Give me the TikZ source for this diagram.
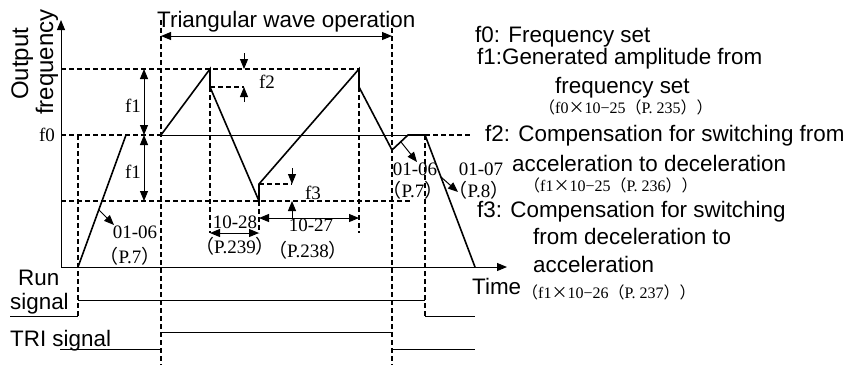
\documentclass[tikz,border=0pt]{standalone}
\usepackage{fontspec}
\setmainfont{Liberation Serif}
\newfontfamily\sansf{Liberation Sans}
\newfontfamily\cjkf{Noto Sans CJK SC}
\usetikzlibrary{arrows.meta}
\newcommand\flp{{\cjkf （}}
\newcommand\frp{{\cjkf ）}}
\newcommand\ftimes{{\cjkf ×}}
\begin{document}
\begin{tikzpicture}[x=1pt,y=-1pt,
  dsh/.style={line width=1.1pt, dash pattern=on 5pt off 3pt},
  wave/.style={line width=1.6pt},
  thinl/.style={line width=1pt},
  sig/.style={line width=0.9pt},
  tip/.style={line width=1pt,-{Triangle[length=10pt,width=8pt]}},
  dtip/.style={line width=1pt,{Triangle[length=10pt,width=8pt]}-{Triangle[length=10pt,width=8pt]}},
  lab/.style={font=\sansf\fontsize{22.4}{27}\selectfont, inner sep=0pt, anchor=base west},
  num/.style={font=\fontsize{19}{22}\selectfont, inner sep=0pt},
  note/.style={font=\fontsize{16}{19}\selectfont, inner sep=0pt, anchor=base west}]
\useasboundingbox (0,0) rectangle (851,365);
% key points
\coordinate (O) at (61,267);
\coordinate (ytop) at (61,20);
\coordinate (xend) at (507,267);
\coordinate (s0) at (78,267);
\coordinate (a) at (126,135);
\coordinate (b) at (161,135);
\coordinate (p1) at (210,69);
\coordinate (p1d) at (210,87);
\coordinate (v1) at (259,201);
\coordinate (v1u) at (259,184);
\coordinate (p2) at (359,69);
\coordinate (p2d) at (359,87);
\coordinate (v2) at (392,150);
\coordinate (c) at (408,135);
\coordinate (d) at (425,135);
\coordinate (e) at (475,267);
% axes
\draw[tip] (O) -- (ytop);
\draw[tip] (O) -- (xend);
% horizontal reference lines
\draw[dsh] (61,69) -- (p2);
\draw[dsh] (61,135) -- (b);
\draw[thinl] (b) -- (d);
\draw[dsh] (d) -- (470,135);
\draw[dsh] (61,201) -- (410,201);
\draw[dsh] (p1d) -- (244,87);
\draw[dsh] (v1u) -- (292,184);
% vertical dashed lines
\draw[dsh] (78,135) -- (78,316);
\draw[dsh] (161,20) -- (161,365);
\draw[dsh] (p1d) -- (210,233);
\draw[dsh] (v1) -- (259,233);
\draw[dsh] (p2d) -- (359,233);
\draw[dsh] (392,20) -- (392,365);
\draw[dsh] (d) -- (425,316);
% waveform
\draw[wave] (s0) -- (a);
\draw[wave] (b) -- (p1) -- (p1d) -- (v1) -- (v1u) -- (p2) -- (p2d) -- (v2) -- (c) -- (d) -- (e);
% dimension arrows
\draw[dtip] (161,36) -- (392,36);
\draw[dtip] (144,69) -- (144,135);
\draw[dtip] (144,135) -- (144,201);
\draw[tip] (244,53) -- (244,69);
\draw[tip] (244,102) -- (244,87);
\draw[tip] (292,168) -- (292,184);
\draw[tip] (292,218) -- (292,201);
\draw[dtip] (210,233) -- (259,233);
\draw[dtip] (259,218) -- (359,218);
\draw[tip] (99,210) -- (114,225);
\draw[tip] (401,142) -- (417,162);
\draw[tip] (441,177) -- (458,192);
% signals
\draw[sig] (10,316) -- (78,316);
\draw[sig] (78,300) -- (425,300);
\draw[sig] (425,316) -- (475,316);
\draw[sig] (60,349) -- (161,349);
\draw[sig] (161,332) -- (392,332);
\draw[sig] (392,349) -- (475,349);
% axis / signal labels
\node[lab, font=\sansf\fontsize{24}{28}\selectfont, rotate=90] (tout) at (28,100) {Output};
\node[lab, font=\sansf\fontsize{24}{28}\selectfont, rotate=90] (tfreq) at (53,115) {frequency};
\node[lab] (ttri) at (157,27) {Triangular wave operation};
\node[lab] (trun) at (18,285) {Run};
\node[lab] (tsig) at (10,309) {signal};
\node[lab] (ttris) at (10,346) {TRI signal};
\node[lab] (ttime) at (472,294) {Time};
% small serif labels
\node[num] (lf0) at (47,135) {f0};
\node[num] (lf1a) at (133,106) {f1};
\node[num] (lf1b) at (133,172) {f1};
\node[num] (lf2) at (267,82) {f2};
\node[num] (lf3) at (313,193) {f3};
\node[num] (l0106a) at (135,232) {01-06};
\node[num] (lp7a) at (130,256) {\flp P.7\frp};
\node[num] (l1028) at (235,222) {10-28};
\node[num] (lp239) at (235,246) {\flp P.239\frp};
\node[num] (l1027) at (311,225) {10-27};
\node[num] (lp238) at (308,250) {\flp P.238\frp};
\node[num] (l0106b) at (415,169) {01-06};
\node[num] (lp7b) at (413,190) {\flp P.7\frp};
\node[num] (l0107) at (481,169) {01-07};
\node[num] (lp8) at (479,190) {\flp P.8\frp};
% legend
\node[lab] (g0) at (475,42) {f0: Frequency set};
\node[lab] (g1) at (477,64) {f1:Generated amplitude from};
\node[lab] (g1b) at (555,93) {frequency set};
\node[note] (n1) at (539,113) {\flp f0\ftimes 10−25\flp P. 235\frp\frp};
\node[lab] (g2) at (485,141) {f2: Compensation for switching from};
\node[lab] (g2b) at (512,171) {acceleration to deceleration};
\node[note] (n2) at (524,191) {\flp f1\ftimes 10−25\flp P. 236\frp\frp};
\node[lab] (g3) at (477,217) {f3: Compensation for switching};
\node[lab] (g3b) at (533,244) {from deceleration to};
\node[lab] (g3c) at (533,272) {acceleration};
\node[note] (n3) at (522,298) {\flp f1\ftimes 10−26\flp P. 237\frp\frp};
\end{tikzpicture}
\end{document}
